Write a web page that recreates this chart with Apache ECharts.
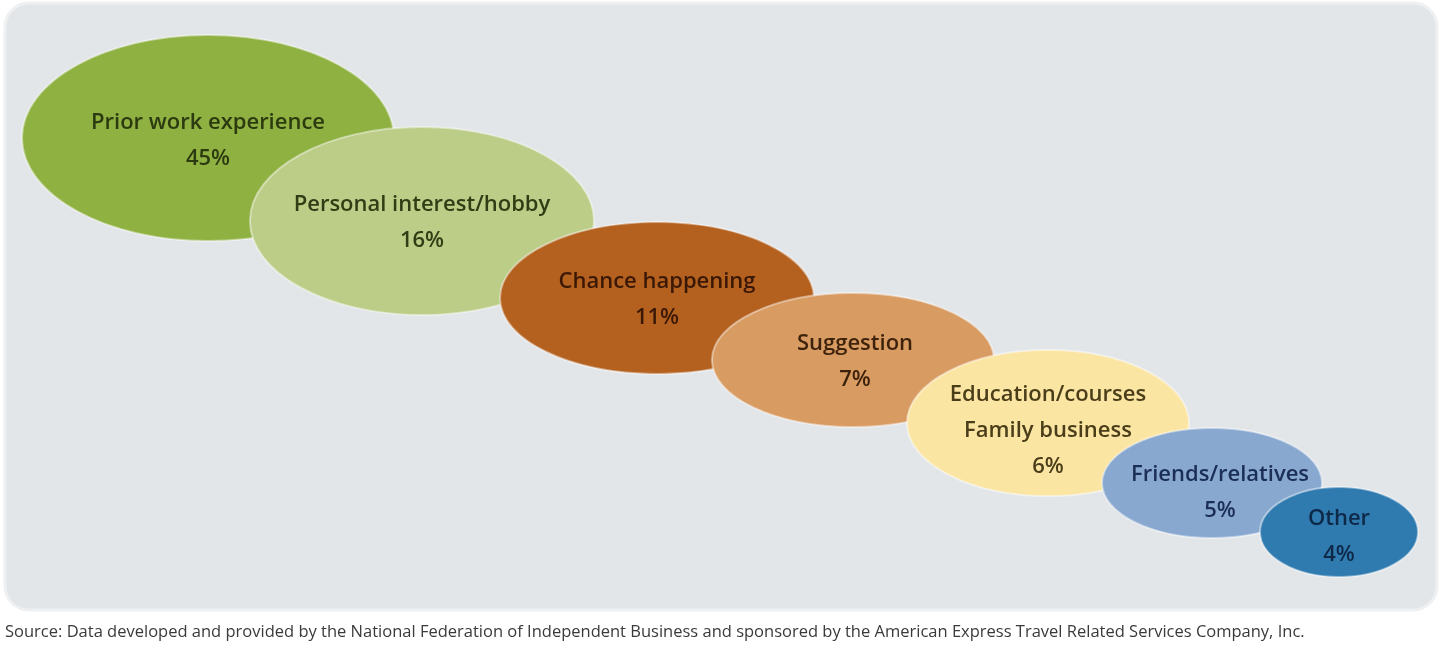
<!DOCTYPE html>
<html><head><meta charset="utf-8">
<script src="https://cdn.jsdelivr.net/npm/echarts@6/dist/echarts.min.js"></script>
<style>html,body{margin:0;padding:0;background:#fff}#c{width:1440px;height:648px}</style>
</head><body><div id="c"></div>
<script>
// Data
var categories = ['Prior work experience', 'Personal interest/hobby', 'Chance happening', 'Suggestion', 'Education/courses\nFamily business', 'Friends/relatives', 'Other'];
var shares = [45, 16, 11, 7, 6, 5, 4];
var sourceText = 'Source: Data developed and provided by the National Federation of Independent Business and sponsored by the American Express Travel Related Services Company, Inc.';

// Layout & style (not data)
var centersX = [208, 422, 657, 853, 1048, 1212, 1339];
var centersY = [138, 221, 298, 360, 423, 483, 532];
var radiiX = [186, 172, 157, 141, 141, 110, 79];
var radiiY = [103, 94, 76, 67, 73, 55, 45];
var labelDy = [3, 2, 2, 2, 8, 10, 5];
var labelDx = [0, 0, 0, 2, 0, 8, 0];
var fills = ['#8fb142', '#bccd88', '#b4611f', '#d89b62', '#fbe5a2', '#88a8d0', '#2f7bb0'];
var textColors = ['#2c3a10', '#303d15', '#3b1805', '#3e230c', '#4a3e1a', '#1b2e55', '#0e2948'];

var chart = echarts.init(document.getElementById('c'));
var seriesData = categories.map(function (c, i) {
  return [centersX[i], centersY[i], radiiX[i], radiiY[i], shares[i], i];
});

chart.setOption({
  animation: false,
  grid: { left: 0, right: 0, top: 0, bottom: 0 },
  xAxis: { type: 'value', min: 0, max: 1440, show: false },
  yAxis: { type: 'value', min: 0, max: 648, inverse: true, show: false },
  graphic: [
    { type: 'rect', z: -10, shape: { x: 5, y: 3, width: 1432, height: 607, r: 24 },
      style: { fill: '#e3e6e9', stroke: '#eef0f2', lineWidth: 3 } },
    { type: 'text', left: 5, top: 624, style: { text: sourceText, font: '16.5px "Open Sans"', fill: '#3a3a3a' } }
  ],
  series: [{
    type: 'custom',
    data: seriesData,
    renderItem: function (params, api) {
      var i = api.value(5);
      var c = api.coord([api.value(0), api.value(1)]);
      var s = api.size([api.value(2), api.value(3)]);
      return {
        type: 'group',
        children: [
          { type: 'ellipse', shape: { cx: c[0], cy: c[1], rx: s[0], ry: s[1] },
            style: { fill: fills[i], stroke: 'rgba(255,255,255,0.45)', lineWidth: 2 } },
          { type: 'text', x: c[0] + labelDx[i], y: c[1] + labelDy[i],
            style: { text: categories[i] + '\n' + api.value(4) + '%', align: 'center', verticalAlign: 'middle',
              font: '600 22px "Open Sans"', lineHeight: 36, fill: textColors[i] } }
        ]
      };
    }
  }]
});
</script></body></html>
